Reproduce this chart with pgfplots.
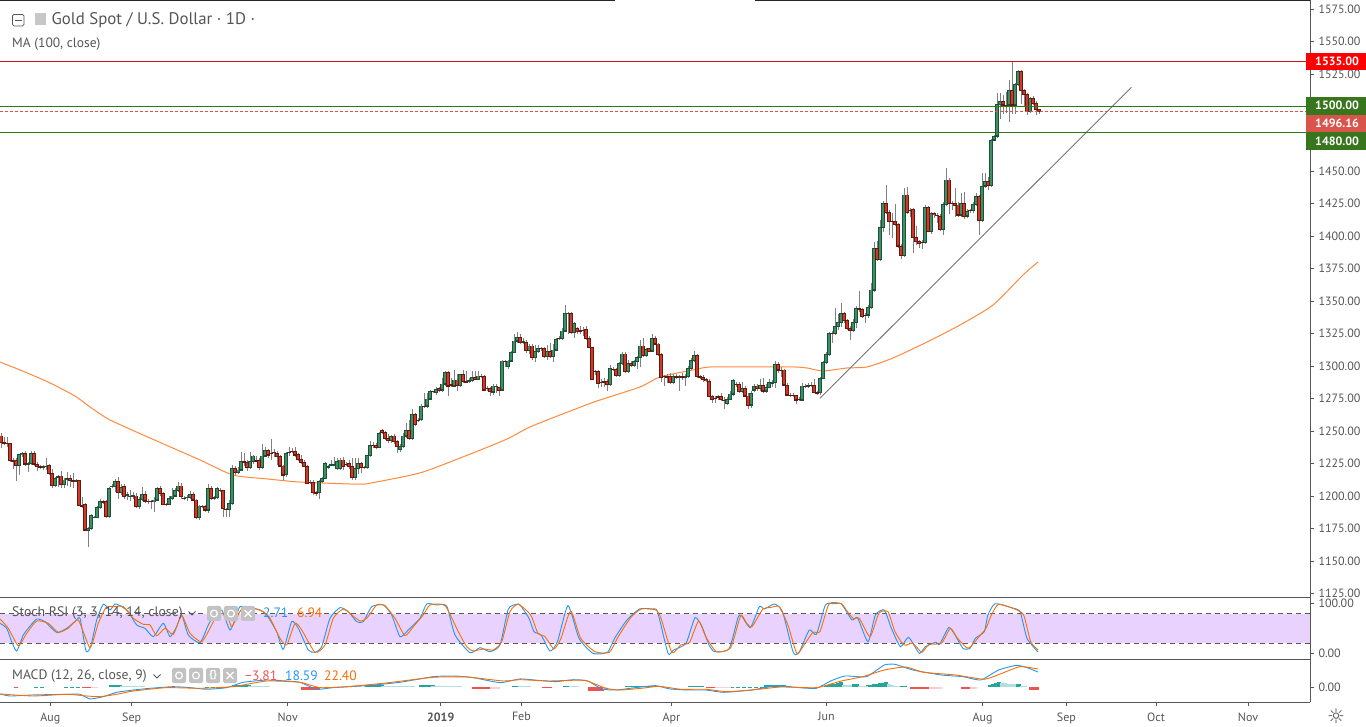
\documentclass[border=0pt]{standalone}
\usepackage{pgfplots}
\usepackage{pgfplotstable}
\usepackage{fontspec}
\setmainfont{PT Sans}
\newfontfamily\dejavu{DejaVu Sans}
\pgfplotsset{compat=1.18}
\definecolor{txt}{HTML}{555555}
\definecolor{linec}{HTML}{555555}
\definecolor{greenB}{HTML}{1A5238}
\definecolor{greenF}{HTML}{3F8F66}
\definecolor{redB}{HTML}{651810}
\definecolor{redF}{HTML}{CF3A28}
\definecolor{ma}{HTML}{FF8A3D}
\definecolor{sblue}{HTML}{2196F3}
\definecolor{sorange}{HTML}{FF6D00}
\definecolor{purp}{HTML}{E9D2FD}
\definecolor{hteal}{HTML}{26A69A}
\definecolor{hlight}{HTML}{B2DFDB}
\definecolor{hred}{HTML}{EF5350}
\definecolor{hpink}{HTML}{FFCDD2}
\definecolor{lvgreen}{HTML}{2F7A10}
\definecolor{lvbox}{HTML}{38761D}
\definecolor{lvred}{HTML}{D9544A}
\definecolor{lvtop}{HTML}{D01010}
\pgfplotstableread{
x o c h l
1 1246.3 1241.2 1248.8 1236.8
4 1241.2 1240.6 1245.8 1239.4
7 1240.6 1240.4 1245.5 1238
10 1240.6 1227.3 1241 1226.5
13 1227.3 1227.0 1229 1221
16 1227.3 1223.4 1229 1211.9
19 1223.4 1231.9 1232.5 1216.3
22 1231.9 1232.9 1234 1230
25 1232.9 1224.7 1234.5 1223
28 1224.7 1225.2 1226 1218.8
31 1225.2 1232.9 1235 1224
34 1232.9 1224.7 1235 1223
37 1224.7 1222.7 1226 1219
40 1222.7 1222.5 1224 1221
43 1222.5 1222.9 1224 1220
46 1223 1223.2 1229 1220
49 1223.7 1217.5 1225 1216
52 1217.5 1208 1220.5 1206.5
55 1208 1213.7 1215 1207
58 1214.7 1215 1216 1207
61 1215.5 1208.8 1219 1206
64 1208.8 1212.4 1214 1206
67 1213 1213.7 1218.8 1208
70 1213.7 1211.9 1216 1207
73 1211.9 1211.8 1218 1206
76 1211.8 1211.9 1213 1211
79 1211.9 1192.7 1212.5 1192
82 1192.7 1192.5 1199 1191
85 1193.9 1173.9 1195 1173
88 1173.9 1175.2 1176 1161
91 1175.2 1185.2 1186.5 1174
94 1183.7 1183.9 1185 1183
97 1183.7 1191.4 1192 1183
100 1191.4 1196 1197.5 1190
103 1196 1195.6 1197 1194
106 1195.7 1184.2 1197 1183
109 1184.2 1206 1207 1183
112 1207.3 1207.6 1209 1206
115 1207.3 1211.6 1213.5 1203
118 1211.6 1202.9 1214.5 1198
121 1202.9 1206.5 1209 1201
124 1207.3 1199.6 1209 1198
127 1200.9 1201.3 1203 1197
130 1199.6 1199.8 1205 1196
133 1200.1 1200.3 1203 1198
136 1200.1 1191.9 1202 1191
139 1191.9 1197.5 1199 1190
142 1197.5 1201.6 1207 1196
145 1201.1 1196.2 1204 1195
148 1196.2 1196 1198 1194
151 1195.7 1195.7 1197 1190
154 1195.7 1197 1199 1187.5
157 1197 1206 1207 1196
160 1206 1202.2 1208 1200
163 1202.2 1193.7 1203 1193
166 1193.7 1193.7 1195 1192
169 1193.7 1198.3 1200 1193
172 1198.3 1200.1 1206 1197
175 1200.1 1204 1206 1199
178 1204 1207.8 1211 1203
181 1207.8 1199.6 1210 1198
184 1198.6 1198.4 1200 1197
187 1198.8 1199 1201 1196
190 1199 1201.6 1204 1198
193 1201.1 1197 1203 1196
196 1197 1183.4 1198 1182
199 1183.4 1192.4 1193 1181.6
202 1192.4 1192.3 1193 1191
205 1191.9 1189.3 1193 1188
208 1189.3 1206 1209 1187
211 1206 1198.3 1208 1197
214 1198.8 1198.9 1200 1197
217 1198.8 1206 1207 1198
220 1204.7 1204.7 1206 1203
223 1204.2 1190.6 1205 1184
226 1189.8 1189.8 1191 1184
229 1189.8 1194 1197 1184
232 1194 1221.4 1224 1193
235 1221.4 1218 1223 1216
238 1218 1220.1 1222 1217
241 1220.1 1226.5 1234 1219
244 1226.5 1226.3 1233 1223
247 1225.8 1222.2 1228 1219
250 1222.2 1226.5 1234 1221
253 1226.5 1230.9 1232 1225
256 1227.3 1227.2 1231 1226
259 1227.3 1222.2 1229 1220
262 1222.2 1230.9 1240 1221
265 1230.9 1235 1238 1230
268 1235 1231.7 1236 1229
271 1232.9 1232.9 1244 1228
274 1234 1234 1236 1230
277 1232.9 1230.4 1235 1224
280 1230.4 1223.2 1232 1222
283 1223.2 1216.3 1224 1212
286 1216.3 1232.9 1234 1215
289 1233.4 1233.4 1238 1231
292 1234.2 1234.2 1237 1233
295 1234.2 1231.7 1238 1230
298 1231.7 1228.3 1233 1227
301 1228.3 1225.8 1232 1225
304 1225.8 1222.7 1228 1222
307 1222.7 1209.8 1224 1209
310 1210.4 1210.4 1212 1209
313 1210.4 1202.7 1212 1201
316 1202.7 1202.6 1204 1200
319 1202.7 1211.1 1212 1198
322 1211.1 1213.7 1215 1210
325 1213.7 1225.2 1226 1213
328 1222.7 1222.8 1224 1221
331 1224 1224.2 1228 1223
334 1224 1224.3 1230 1223
337 1221.4 1226.5 1229 1220
340 1221.4 1227.8 1229 1220
343 1227.8 1222.7 1230 1220
346 1224.2 1224.2 1226 1223
349 1224.8 1222.7 1228 1221
352 1222.7 1214.2 1229 1212
355 1214.2 1221.4 1229 1212
358 1221.4 1224.8 1229 1217
361 1224.8 1222.2 1226 1218
364 1222.2 1222.1 1223 1221
367 1222.1 1231.2 1232 1221
370 1231.2 1238.9 1242.5 1230
373 1238.9 1238.9 1242 1237
376 1238.9 1237.6 1241 1236
379 1237.6 1248.4 1249.5 1237
382 1250.4 1249.1 1251.5 1248
385 1249.1 1244.5 1250 1243
388 1244.5 1242.7 1248 1241
391 1242.7 1245.8 1247 1241
394 1246.3 1241.9 1248 1240
397 1241.9 1238 1243 1233
400 1236 1238 1240 1234
403 1238 1246.3 1248.9 1237
406 1246.3 1250.2 1256.6 1245
409 1250.2 1244.5 1258.6 1243
412 1244.5 1262.5 1267.3 1243
415 1262.5 1255.3 1264 1254
418 1258.6 1258.6 1260 1257
421 1259.1 1269.4 1270.5 1258
424 1269.4 1269.3 1279 1268
427 1269.4 1274.8 1279 1268
430 1274.8 1280.4 1281.5 1274
433 1280.2 1280.2 1281 1279
436 1280.2 1282.2 1284 1278
439 1283 1281.2 1284 1280
442 1281.7 1286.3 1291 1280
445 1286.3 1295.3 1296 1285
448 1295.3 1284.8 1296 1277
451 1285.6 1285.4 1291 1284
454 1284.8 1289.4 1297 1284
457 1289.4 1285.3 1294 1281
460 1285.3 1293.3 1294 1284
463 1293.3 1288.1 1297 1287
466 1288.1 1288 1296 1287
469 1288.6 1288.7 1291 1287
472 1288.7 1291.5 1296 1288
475 1291.5 1290 1296 1289
478 1290 1292.5 1296 1289
481 1292.5 1292.4 1294 1291
484 1292.4 1281.7 1293 1281
487 1282.7 1282.7 1285 1281
490 1282.7 1280.2 1284 1277
493 1280.2 1284.8 1286 1278
496 1284.3 1284.4 1286 1279
499 1283.8 1281.7 1284 1277
502 1281.7 1304 1305 1281
505 1303.8 1303.7 1305 1299
508 1299.7 1304 1305 1298
511 1304 1310.7 1312 1303
514 1310.7 1319.4 1325 1310
517 1319.4 1322 1326 1318
520 1322 1318.4 1325 1317
523 1318.4 1318.9 1322 1317
526 1318.2 1312 1320 1310
529 1312 1315.6 1317 1309
532 1315.6 1306.9 1317 1305
535 1306.9 1311 1316 1303
538 1311 1314 1316 1310
541 1313.8 1313.7 1315 1312
544 1313.8 1307.4 1315 1306
547 1307.4 1311.2 1316 1305
550 1311.2 1307.4 1318 1306
553 1307.4 1312.5 1317 1303
556 1312.5 1320.7 1322 1312
559 1321.5 1321.5 1323 1320
562 1321.5 1327.1 1329 1320
565 1327.1 1340.7 1347 1326
568 1340.7 1340.8 1342 1325
571 1340.7 1326.1 1342 1325
574 1326.1 1333 1334 1322
577 1329.2 1326.6 1330 1325
580 1327.4 1327.3 1331 1325
583 1327.4 1327.4 1330 1323
586 1328.4 1321.5 1331 1320
589 1321.5 1314.6 1323 1314
592 1314.6 1289.9 1315 1289
595 1295.8 1295.8 1297 1293
598 1295.8 1286.8 1297 1283
601 1287.4 1287.5 1290 1284
604 1288.1 1288 1291 1284
607 1288.1 1285.8 1290 1281
610 1285.8 1298.4 1301 1285
613 1297.6 1297.6 1299 1296
616 1297.6 1292.8 1298.5 1292
619 1292.8 1302.2 1303 1292
622 1302.2 1309.4 1311 1301
625 1309.4 1295.8 1311 1295
628 1295.8 1302.2 1305 1295
631 1302.2 1300.4 1304 1299
634 1300.4 1303.5 1305 1299
637 1303.5 1306.9 1308 1298
640 1306.9 1315.6 1320 1299
643 1315.6 1308.1 1322 1307
646 1308.1 1313 1314 1307
649 1313.5 1311.7 1314 1311
652 1311.7 1321.5 1325 1311
655 1321.5 1317.1 1323 1316
658 1317.1 1309.2 1318 1308
661 1309.2 1291.2 1310 1288
664 1291.9 1291.9 1293 1285
667 1291.9 1291.8 1294 1287
670 1291.9 1287.6 1295 1286
673 1287.6 1291.9 1294 1286
676 1291.9 1291.8 1294 1290
679 1291.8 1291.9 1293 1281
682 1291.9 1291.8 1295 1289
685 1291.8 1291.9 1294 1285
688 1291.9 1298.4 1300 1291
691 1298.4 1304.3 1306 1297
694 1304.3 1308.4 1312 1303
697 1308.4 1291.9 1309 1291
700 1291.9 1291.8 1293 1290
703 1291.4 1289.9 1293 1288
706 1289.9 1288.9 1291 1288
709 1288.1 1276.6 1290 1276
712 1276.6 1274.5 1278 1272
715 1275.3 1275.3 1277 1272
718 1276.6 1276.3 1278 1274
721 1276.6 1274.5 1279 1273
724 1274 1274 1276 1266.8
727 1271.4 1274.5 1276 1270
730 1274.5 1278.6 1281 1274
733 1278.6 1288.9 1290 1277
736 1286 1286 1288 1284
739 1286 1280.4 1288 1279
742 1280.4 1283 1288 1279
745 1283 1277.1 1285 1276
748 1277.1 1270.1 1279 1267
751 1270.1 1279.1 1281 1268
754 1281.7 1284.3 1286 1280
757 1284.8 1282.7 1286 1281
760 1282.7 1285.5 1290 1281
763 1285.5 1280.9 1291 1279
766 1280.9 1283.7 1286 1279
769 1283.7 1287.3 1290 1283
772 1287.3 1287.4 1289 1284
775 1287.3 1301.4 1304 1283
778 1301.4 1297.1 1303 1295
781 1297.1 1297 1299 1292
784 1297.1 1285.5 1298 1285
787 1285.5 1277.8 1287 1277
790 1277.8 1277.7 1279 1276
793 1277.8 1277.8 1279 1276
796 1277.3 1274 1278 1271
799 1274.5 1274.5 1276 1273
802 1274 1284.8 1287 1273
805 1284.8 1284.8 1286 1283
808 1284.8 1284.9 1287 1283
811 1285.5 1285.5 1288 1284
814 1285.5 1279.6 1290 1279
817 1279.6 1279.5 1281 1278
820 1279.6 1290.7 1292 1278
823 1290.7 1303 1304 1290
826 1303 1309.1 1311 1302
829 1309.1 1325.3 1326 1308
832 1325.3 1325.3 1327 1318
835 1325.3 1330.4 1344.5 1324
838 1330.4 1333.8 1340 1328
841 1333.8 1340.7 1348.4 1330
844 1340.7 1335 1342 1333
847 1335 1329.2 1336 1328
850 1329.2 1327.4 1331 1320
853 1327.4 1333.8 1336 1326
856 1333.8 1344.6 1346 1329
859 1344.6 1343.8 1358.2 1342
862 1343.8 1338.1 1345 1337
865 1338.9 1338.9 1341 1333
868 1339.4 1345.3 1347 1337
871 1345.3 1358.7 1364 1344
874 1358.7 1390.8 1395.9 1357
877 1390.8 1382.3 1396 1381
880 1382.3 1406.9 1412.6 1381
883 1406.9 1425.4 1427 1403
886 1425.4 1418.5 1439.5 1417
889 1418.5 1411.3 1420 1401
892 1411.3 1411.3 1418 1398.4
895 1411.3 1409.2 1424.6 1408
898 1409.2 1392.5 1410 1391
901 1392.5 1385.4 1394 1382.3
904 1385.4 1431.8 1437 1384
907 1431.8 1418.5 1437.7 1417
910 1420.3 1420.3 1422 1415
913 1420.8 1399.2 1422 1387.4
916 1399.2 1395.9 1408 1393
919 1395.9 1394.6 1397 1391
922 1395.1 1395.1 1397 1390
925 1395.1 1422.3 1424 1394
928 1422.3 1403.6 1423 1403
931 1403.6 1417.7 1419 1402
934 1417.7 1416.7 1419 1414
937 1416.2 1416.2 1418 1410
940 1415.6 1405.4 1417 1404
943 1405.4 1424.6 1426 1401
946 1424.6 1443.4 1452.5 1423
949 1443.4 1425.4 1445 1417
952 1425.4 1425.4 1427 1420
955 1425.4 1424.1 1437 1415
958 1424.1 1416.4 1426 1415
961 1416.4 1425.4 1433 1415
964 1425.4 1415.6 1434 1413
967 1415.6 1419 1421 1414
970 1419.7 1419.7 1421 1418
973 1419.7 1424.6 1426 1418
976 1424.6 1430.5 1433 1423
979 1430.5 1412 1432 1401
982 1412 1438.7 1449 1411
985 1438.7 1442.1 1449 1437
988 1442.1 1439.2 1446 1436
991 1439.2 1474.1 1475 1438
994 1474.1 1477.2 1478 1473
997 1477.2 1501.6 1510 1476
1000 1501.6 1503.7 1510 1490
1003 1503.7 1501.1 1509 1494
1006 1501.1 1501.0 1511 1495
1009 1501.1 1512.6 1520 1488
1012 1512.6 1501.1 1534.4 1494
1015 1501.1 1517 1518 1494
1018 1517 1526.8 1528 1516
1021 1526.8 1512.1 1528 1502
1024 1512.1 1509.3 1513 1500
1027 1509.3 1496 1510 1493
1030 1496 1506.2 1507 1495
1033 1506.2 1502.4 1508 1501
1036 1502.4 1497.8 1504 1493
1039 1497.8 1496 1498 1494
}\candles
\newcommand{\wicks}{%
  \addplot[draw=none,mark=none,forget plot,
    error bars/.cd,y dir=both,y explicit,error mark=none,
    error bar style={color=black!50,line width=0.7pt}]
    table[x=x,y=l,y error plus expr=\thisrow{h}-\thisrow{l},y error minus expr=0]{\candles};}
\newcommand{\bodies}[4]{% colour border, colour fill, lo, hi
  \addplot[draw=none,mark=none,forget plot,
    restrict expr to domain={\thisrow{c}-\thisrow{o}}{#3:#4},
    error bars/.cd,y dir=both,y explicit,error mark=-,
    error mark options={color=#1,line width=0.8pt,mark size=1.6pt,rotate=90},
    error bar style={color=#1,line width=3.1pt}]
    table[x=x,y expr={(\thisrow{o}+\thisrow{c})/2},y error expr={abs(\thisrow{c}-\thisrow{o})/2}]{\candles};
  \addplot[draw=none,mark=none,forget plot,
    restrict expr to domain={\thisrow{c}-\thisrow{o}}{#3:#4},
    error bars/.cd,y dir=both,y explicit,error mark=none,
    error bar style={color=#2,line width=1.2pt}]
    table[x=x,y expr={(\thisrow{o}+\thisrow{c})/2},y error expr={max(abs(\thisrow{c}-\thisrow{o})/2-0.4,0)}]{\candles};}
\pgfplotsset{tvaxis/.style={
  scale only axis,width=1310pt,xmin=0,xmax=1310,
  axis y line*=right,axis x line*=bottom,axis line style={linec,line width=0.8pt},
  every tick/.style={linec,line width=0.6pt},tick align=outside,
  major tick length=4pt,ytick pos=right,
  tick label style={text=txt,font=\fontsize{12}{14}\selectfont},
  yticklabel style={anchor=west,xshift=1pt,/pgf/number format/.cd,fixed,fixed zerofill,precision=2,1000 sep={},assume math mode=true},
}}
\begin{document}
\begin{tikzpicture}[x=1pt,y=1pt]
\useasboundingbox (0,0) rectangle (1366,726);
% main
\begin{axis}[tvaxis,at={(0pt,129pt)},anchor=south west,height=597pt,
  ymin=1122.3,ymax=1581.9,xtick=\empty,
  ytick={1125,1150,1175,1200,1225,1250,1275,1300,1325,1350,1375,1400,1425,1450,1525,1550,1575}]
\addplot[ma,line width=1pt,smooth,tension=0.4] coordinates {(0,1303.2)(25,1295.5)(50,1287.1)(75,1277)(90,1268.6)(110,1258.6)(150,1244.7)(200,1227.8)(233,1216.2)(267,1213.2)(300,1210.8)(350,1209.3)(365,1209.3)(387,1212.4)(423,1218.5)(473,1233.2)(507,1243.9)(530,1253.2)(573,1266.3)(597,1273.2)(640,1284)(660,1291.7)(693,1297.1)(710,1299.4)(747,1299.4)(793,1299.4)(807,1298.6)(823,1296.3)(847,1298.6)(867,1299.4)(893,1306.3)(927,1318.6)(960,1331.7)(993,1347.1)(1023,1370.2)(1038,1380.2)};
\addplot[black!55,line width=0.9pt] coordinates {(820,1275.3)(1131.5,1514.7)};
\wicks
\bodies{greenB}{greenF}{0.0001}{1000}
\bodies{redB}{redF}{-1000}{0}
\addplot[lvtop,line width=0.8pt] coordinates {(0,1535)(1306,1535)};
\addplot[lvgreen,line width=0.8pt] coordinates {(0,1500)(1306,1500)};
\addplot[lvgreen,line width=0.8pt] coordinates {(0,1480)(1306,1480)};
\addplot[lvred,line width=0.7pt,densely dashed] coordinates {(0,1496.16)(1306,1496.16)};
\end{axis}
% stoch rsi
\begin{axis}[tvaxis,at={(0pt,67pt)},anchor=south west,height=62pt,
  ymin=-11.5,ymax=113.7,xtick=\empty,ytick={0,100}]
\addplot[draw=none,fill=purp] coordinates {(0,20)(1310,20)(1310,80)(0,80)} --cycle;
\addplot[black!65,line width=0.7pt,dash pattern=on 5pt off 4pt] coordinates {(0,80)(1310,80)};
\addplot[black!65,line width=0.7pt,dash pattern=on 5pt off 4pt] coordinates {(0,20)(1310,20)};
\addplot[sblue,line width=0.9pt,smooth,tension=0.35] coordinates {(0,60.6)(6.7,50.5)(11.7,23.5)(16.7,4.7)(23.3,37)(28.3,50.5)(36.7,69.3)(45,63.9)(50,53.8)(57.3,41.7)(66.7,50.5)(75,63.9)(80,70.7)(86,4.7)(90.7,13.4)(96.7,67.3)(103.3,99)(110,87.5)(115,99.6)(121.7,94.2)(128.3,84.1)(136.7,57.2)(145,50.5)(153.3,33.6)(163.3,60.6)(170,33.6)(176.7,53.8)(181.7,77.4)(188.3,37)(200,21.5)(208.3,57.2)(213.3,74)(221.7,87.5)(230,47.1)(236.7,77.4)(240,94.2)(250,92.2)(260,87.5)(266.7,77.4)(276.7,43.7)(283.3,8)(291.7,63.9)(298.3,50.5)(308.3,6.7)(315,2)(321.7,13.4)(330,70.7)(340,92.2)(348.3,84.1)(356.7,63.9)(363.3,63.9)(371.7,94.2)(383.3,97.6)(391.7,77.4)(400,33.6)(408.3,47.1)(420,70.7)(426.7,99.6)(436.7,97.6)(446.7,95.6)(455,37)(470,1.3)(480,11.4)(490,3.3)(500,16.8)(508.3,89.5)(516.7,99)(520,97.6)(529,70.7)(534,43.7)(541,37)(550,4.7)(557.5,23.5)(568,96.3)(579,30.3)(593,0)(607.5,2)(614.6,30.3)(627,67.3)(639.6,89.5)(652,89.5)(657.5,84.1)(668,0)(673.6,6.7)(686,20.2)(695,72)(702,53.8)(709,16.8)(714.6,3.3)(729,8.7)(738,72)(741.4,76)(750.4,51.8)(759.3,94.2)(764.6,89.5)(774.3,99.6)(782.5,84.1)(793,3.3)(798.6,0)(809.3,47.1)(816.4,38.3)(825.4,97.6)(834.3,100)(841.4,99.6)(852,67.3)(857.5,72)(868,23.5)(875.4,77.4)(884.3,87.5)(891.4,50.5)(900.4,13.4)(908.6,32.3)(919.3,0)(925.4,13.4)(936,22.2)(939.6,18.1)(948.6,51.8)(954,40.4)(963,10.1)(970,10.1)(975.4,30.3)(984.3,43.7)(987.9,77.4)(995,100)(1011,92.2)(1020,84.1)(1027,30.3)(1038,2.71)};
\addplot[sorange,line width=0.9pt,smooth,tension=0.35] coordinates {(0,69.3)(8.3,50.5)(18.3,15.4)(26.7,40.4)(36.7,65.3)(48.3,60.6)(58.3,42.4)(68.3,50.5)(78.3,67.3)(90,11.4)(98.3,60.6)(106,92.2)(115,94.2)(123.3,94.2)(133.3,70.7)(143.3,58.5)(150,57.2)(156.7,35.6)(165,50.5)(173.3,38.3)(181.7,76)(190,40.4)(201.7,23.5)(211.7,57.2)(216.7,76)(226.7,80.8)(231.7,53.8)(241.7,89.5)(253.3,90.9)(263.3,84.1)(270,70.7)(280,30.3)(286.7,16.8)(295,60.6)(301.7,47.1)(315,2)(325,16.8)(333.3,70.7)(343.3,89.5)(351.7,77.4)(360,65.3)(366.7,70.7)(376.7,97.6)(385,96.3)(395,70.7)(405,35.6)(413.3,53.8)(423.3,77.4)(430,97.6)(445,96.3)(458.3,43.7)(466.7,13.4)(473.3,4.7)(483.3,8.7)(493.3,6.7)(501.7,23.5)(510,84.1)(518.3,99)(530.7,77.4)(537.9,40.4)(545,33.6)(554,8.7)(561,30.3)(570.7,85.5)(580.7,30.3)(595,3.3)(609.3,2)(618.2,33.6)(630.7,72)(641.4,89.5)(655.7,87.5)(661,70.7)(671.8,2)(680.7,16.8)(689.6,22.2)(698.6,65.3)(705.7,33.6)(716.4,3.3)(730.7,11.4)(740.7,76)(746.8,60.6)(752,53.8)(762.9,89.5)(770,92.2)(779,94.2)(787.9,57.2)(796.8,0)(804,16.8)(812.9,42.4)(820,43.7)(829,99.6)(841.4,100)(848.6,80.8)(853.9,69.3)(859.3,70.7)(870,33.6)(878.9,80.8)(887.9,84.1)(895,43.7)(903.9,16.8)(912.9,20.2)(921.8,2)(929,18.1)(941.4,20.2)(950.4,50.5)(957.5,30.3)(968.2,10.1)(979,33.6)(986,50.5)(991.4,77.4)(998.6,99)(1014.6,89.5)(1023.6,77.4)(1030.7,23.5)(1038,6.94)};
\end{axis}
% macd
\begin{axis}[tvaxis,at={(0pt,24pt)},anchor=south west,height=43pt,
  ymin=-17.9,ymax=34.5,ytick={0},
  xtick={50.3,131.7,287.7,440.7,521.4,671.4,826.4,982.5,1066.4,1156,1248},
  xticklabels={Aug,Sep,Nov,{\bfseries 2019},Feb,Apr,Jun,Aug,Sep,Oct,Nov},
  xtick pos=bottom,xticklabel style={yshift=-3pt}]
\addplot[ycomb,hteal,line width=3.1pt] coordinates {(36,.4)(42,.4)(66,.4)(72,.4)(78,.4)(111,2.4)(114,2.4)(117,2.4)(120,2.4)(207,.6)(213,.6)(219,.6)(225,.6)(234,2.4)(237,2.4)(240,2.4)(243,2.4)(246,2.4)(249,2.4)(367,2.4)(370,2.4)(373,2.4)(376,2.4)(379,2.4)(382,2.4)(421,2.4)(424,2.4)(427,2.4)(430,2.4)(433,2.4)(514,2)(517,2)(565,2)(568,2)(627,1.2)(630,1.2)(633,1.2)(636,1.2)(639,1.2)(642,1.2)(645,1.2)(648,1.2)(651,1.2)(654,1.2)(657,1.2)(690,1.2)(693,1.2)(696,1.2)(699,1.2)(702,1.2)(732,.8)(738,.8)(744,.8)(750,.8)(756,.8)(762,.8)(766,2.4)(769,2.4)(772,2.4)(775,2.4)(778,2.4)(781,2.4)(784,2.4)(826,2)(829,3)(832,4)(835,4.5)(838,5.3)(841,6)(854,4)(857,4)(868,2.5)(871,3)(874,3.5)(877,4)(880,5)(883,5.5)(886,6)(902,1)(905,1)(990,3)(993,4)(996,5.5)(999,6.5)(1016,4)(1019,4)};
\addplot[ycomb,hlight,line width=3.1pt] coordinates {(122,2)(125,2)(128,2)(131,2)(134,2)(137,2)(140,2)(143,2)(250,1.6)(253,1.6)(256,1.6)(259,1.6)(262,1.6)(265,1.6)(268,1.6)(383,1.6)(386,1.6)(389,1.6)(392,1.6)(395,1.6)(398,1.6)(401,1.6)(404,1.6)(407,1.6)(410,1.6)(413,1.6)(433,2)(436,2)(439,2)(442,2)(445,2)(448,2)(451,2)(454,2)(457,2)(460,2)(520,1.2)(523,1.2)(526,1.2)(529,1.2)(571,1)(574,1)(577,1)(787,1)(790,1)(844,3)(847,3)(850,3)(860,2)(863,2)(866,2)(889,3.5)(892,2.8)(895,2)(898,1)(1002,5)(1005,5)(1008,4.5)(1011,4.5)(1014,4)(1022,2)(1025,2)};
\addplot[ycomb,hred,line width=3.1pt] coordinates {(16,-.4)(84,-1.2)(87,-1.2)(90,-1.2)(303,-3.6)(306,-3.6)(309,-3.6)(312,-3.6)(315,-3.6)(318,-3.6)(474,-1.6)(477,-1.6)(480,-1.6)(483,-1.6)(486,-1.6)(489,-1.6)(544,-.8)(547,-.8)(550,-.8)(590,-4)(593,-4)(596,-4)(599,-4)(602,-4)(708,-.8)(711,-.8)(714,-.8)(912,-2.4)(915,-2.4)(918,-2.4)(921,-2.4)(925,-2)(928,-2)(963,-1.6)(966,-1.6)(969,-1.6)(1031,-2.8)(1034,-2.8)(1037,-2.8)};
\addplot[ycomb,hpink,line width=3.1pt] coordinates {(93,-1)(96,-1)(492,-1.6)(495,-1.6)(498,-1.6)(605,-3)(717,-.5)(720,-.5)(723,-.5)(726,-.5)(729,-.5)(931,-2)(934,-2)(937,-2)(940,-2)(972,-1.6)(975,-1.6)};
\addplot[sblue,line width=0.9pt,smooth,tension=0.3] coordinates {(0,-8.1)(10,-10.6)(33.3,-9.3)(66.7,-8.5)(80,-8.5)(90,-14.2)(103.3,-11.4)(116.7,-6.1)(133.3,-3.3)(150,-1.2)(173.3,.8)(190,-.4)(206.7,-2.4)(226.7,-.4)(243.3,6.1)(266.7,8.9)(286.7,7.7)(300,6.1)(316.7,-2.4)(333.3,-.4)(366.7,2)(400,6.1)(433.3,13)(453.3,13.8)(473.3,11.8)(500,5.7)(520,10.2)(537.9,8.5)(555.7,6.9)(573.6,9.3)(587.9,7.7)(602,-2)(616.4,-3.3)(637.9,0)(655.7,2)(670,-2)(687.9,-3.3)(705.7,-3.3)(723.6,-6.1)(752,-3.3)(777,2)(798.6,-.4)(816.4,-1.2)(830.7,7.7)(845,13.8)(866.4,13)(884.3,27.2)(895,28)(912.9,21.1)(941.4,15)(962.9,13)(980.7,8.9)(998.6,21.1)(1016.4,26.8)(1027,24)(1038,18.59)};
\addplot[sorange,line width=0.9pt,smooth,tension=0.3] coordinates {(0,-8.1)(33.3,-10.6)(66.7,-8.5)(86.7,-10.6)(100,-11.4)(116.7,-8.5)(133.3,-4.5)(166.7,-.4)(200,-1.2)(233.3,.8)(266.7,7.7)(300,6.1)(320,-.4)(346.7,.8)(383.3,4.9)(433.3,12.2)(466.7,12.6)(503.3,7.7)(520,9.3)(548.6,7.7)(584.3,8.5)(605.7,-1.2)(620,-3.3)(641.4,-1.2)(659.3,1.2)(680.7,-2.4)(705.7,-2.4)(727,-5.3)(755.7,-2.8)(780.7,.4)(816.4,-.4)(841.4,7.7)(862.9,13)(884.3,21.1)(905.7,24.8)(923.6,18.3)(955.7,15)(984.3,9.8)(1002,17.1)(1020,25.2)(1038,22.4)};
\end{axis}
% frame lines
\draw[linec,line width=0.8pt] (1310,24) -- (1310,726);
\draw[black!85,line width=1.4pt] (0,725.6) -- (615,725.6);
\draw[black!85,line width=1.4pt] (755,725.6) -- (1310,725.6);
% price boxes
\fill[red] (1306,656) rectangle (1366,673);
\fill[lvbox] (1306,611) rectangle (1366,629);
\fill[lvred] (1306,594) rectangle (1366,611);
\fill[lvbox] (1306,575.5) rectangle (1366,594);
\foreach \yy/\tt in {664.8/1535.00,620.2/1500.00,602.8/1496.16,584.6/1480.00}
  \node[anchor=west,text=white,font=\fontsize{12}{14}\selectfont\bfseries,inner sep=0pt] at (1315,\yy) {\tt};
% titles
\draw[txt,line width=0.7pt,rounded corners=1.5pt] (12.5,711.5) rectangle (24,700);
\draw[txt,line width=0.7pt] (15,705.8) -- (21.5,705.8);
\fill[black!22] (35,713) rectangle (46,701);
\node[anchor=west,text=txt,font=\fontsize{16.8}{18}\selectfont,inner sep=0pt] at (51.5,706) {Gold Spot / U.S. Dollar · 1D ·};
\node[anchor=west,text=txt,font=\fontsize{13.5}{15}\selectfont,inner sep=0pt] at (12,682) {MA (100, close)};
\node[anchor=west,text=txt,font=\fontsize{13.8}{15}\selectfont,inner sep=0pt] at (12,113) {Stoch RSI (3, 3, 14, 14, close)};
\draw[txt,line width=0.8pt] (188.5,114.5) -- (192,111) -- (195.5,114.5);
\node[anchor=west,text=txt,font=\fontsize{13.7}{15}\selectfont,inner sep=0pt] at (12,50) {MACD (12, 26, close, 9)};
\draw[txt,line width=0.8pt] (153.5,51.5) -- (157,48) -- (160.5,51.5);
% indicator buttons
\foreach \xx in {207,224,241}{\fill[black!24,rounded corners=1.5pt] (\xx,105) rectangle ++(14,15);}
\foreach \xx in {172,189,206,223}{\fill[black!24,rounded corners=1.5pt] (\xx,43) rectangle ++(14,15);}
\foreach \xx/\yy in {214/112.5,231/112.5,179/50.5,196/50.5}{\draw[white,line width=1.2pt] (\xx,\yy) circle (3.4);}
\foreach \xx/\yy in {248/112.5,230/50.5}{\draw[white,line width=1.3pt] (\xx-3.5,\yy-3.5) -- (\xx+3.5,\yy+3.5) (\xx-3.5,\yy+3.5) -- (\xx+3.5,\yy-3.5);}
\node[text=white,font=\fontsize{10}{12}\selectfont\bfseries,inner sep=0pt] at (213,50.5) {\{\}};
\foreach \xx/\yy/\cc/\tt in {263/113/sblue/2.71,297/113/sorange/6.94,245/50/hred/−3.81,285/50/sblue/18.59,324/50/sorange/22.40}
  \node[anchor=west,text=\cc,font=\fontsize{13.6}{15}\selectfont,inner sep=0pt] at (\xx,\yy) {\tt};
\node[text=txt,font=\dejavu\fontsize{20}{22}\selectfont,inner sep=0pt] at (1336,10) {☼};
\end{tikzpicture}
\end{document}
